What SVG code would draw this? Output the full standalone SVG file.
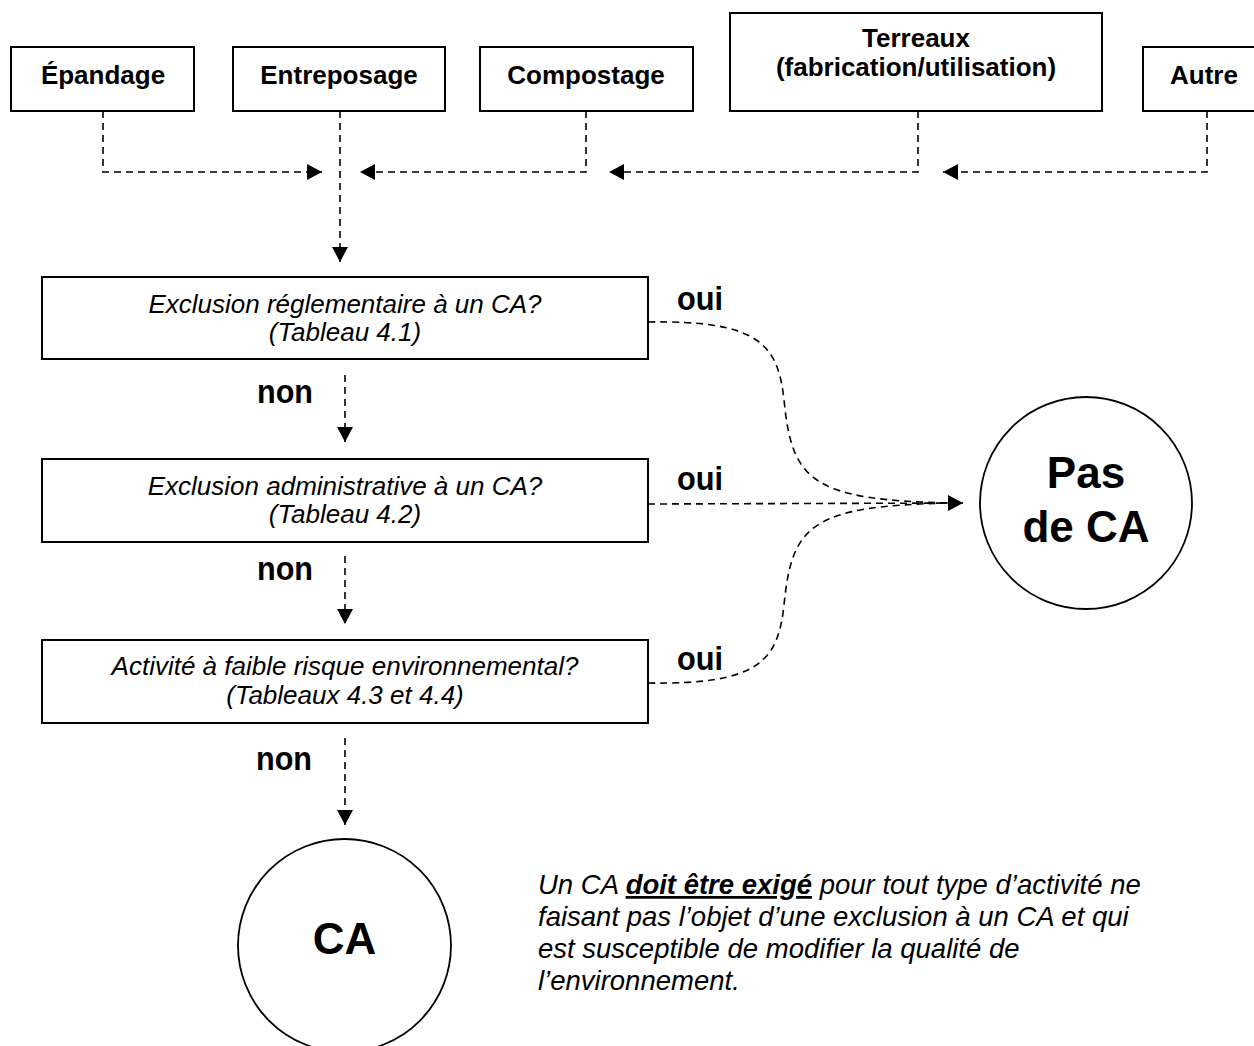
<svg xmlns="http://www.w3.org/2000/svg" width="1254" height="1046" viewBox="0 0 1254 1046">
<style>
  .box { fill: #fff; stroke: #000; stroke-width: 2; }
  .circ { fill: #fff; stroke: #000; stroke-width: 1.8; }
  .dash { fill: none; stroke: #000; stroke-width: 1.6; stroke-dasharray: 7 5; }
  .top { font-family: "Liberation Sans", Arial, sans-serif; font-weight: bold; font-size: 26px; text-anchor: middle; fill: #000; }
  .q { font-family: "Liberation Sans", Arial, sans-serif; font-style: italic; font-size: 26px; text-anchor: middle; fill: #000; }
  .lbl { font-family: "Liberation Sans", Arial, sans-serif; font-weight: bold; font-size: 33px; fill: #000; }
  .big { font-family: "Liberation Sans", Arial, sans-serif; font-weight: bold; font-size: 44px; text-anchor: middle; fill: #000; }
  .note { font-family: "Liberation Sans", Arial, sans-serif; font-style: italic; font-size: 27.5px; fill: #000; }
</style>
<defs>
  <marker id="ah" markerUnits="userSpaceOnUse" markerWidth="16" markerHeight="16" refX="15" refY="8" orient="auto">
    <path d="M0,0 L15,8 L0,16 Z" fill="#000"/>
  </marker>
</defs>
<rect width="1254" height="1046" fill="#fff"/>

<g id="connectors">
  <path class="dash" d="M103,111 V172 H322" marker-end="url(#ah)"/>
  <path class="dash" d="M340,111 V262" marker-end="url(#ah)"/>
  <path class="dash" d="M586,111 V172 H360" marker-end="url(#ah)"/>
  <path class="dash" d="M918,111 V172 H609" marker-end="url(#ah)"/>
  <path class="dash" d="M1207,111 V172 H943" marker-end="url(#ah)"/>
  <path class="dash" d="M345,375 V442" marker-end="url(#ah)"/>
  <path class="dash" d="M345,556 V624" marker-end="url(#ah)"/>
  <path class="dash" d="M345,738 V825" marker-end="url(#ah)"/>
  <path class="dash" d="M648,322 C760,320 778,345 784,400 C792,480 810,500 950,503"/>
  <path class="dash" d="M648,504 L963,503" marker-end="url(#ah)"/>
  <path class="dash" d="M648,683 C760,685 778,660 784,605 C792,525 810,506 950,503"/>
</g>

<g id="n-epandage">
  <rect class="box" x="11" y="47" width="183" height="64"/>
  <text class="top" x="103" y="84">Épandage</text>
</g>
<g id="n-entreposage">
  <rect class="box" x="233" y="47" width="212" height="64"/>
  <text class="top" x="339" y="84">Entreposage</text>
</g>
<g id="n-compostage">
  <rect class="box" x="480" y="47" width="213" height="64"/>
  <text class="top" x="586" y="84">Compostage</text>
</g>
<g id="n-terreaux">
  <rect class="box" x="730" y="13" width="372" height="98"/>
  <text class="top" x="916" y="47">Terreaux</text>
  <text class="top" x="916" y="76">(fabrication/utilisation)</text>
</g>
<g id="n-autre">
  <rect class="box" x="1143" y="47" width="128" height="64"/>
  <text class="top" x="1204" y="84">Autre</text>
</g>

<g id="n-q1">
  <rect class="box" x="42" y="277" width="606" height="82"/>
  <text class="q" x="345" y="313">Exclusion réglementaire à un CA?</text>
  <text class="q" x="345" y="341">(Tableau 4.1)</text>
</g>
<g id="n-q2">
  <rect class="box" x="42" y="459" width="606" height="83"/>
  <text class="q" x="345" y="495">Exclusion administrative à un CA?</text>
  <text class="q" x="345" y="523">(Tableau 4.2)</text>
</g>
<g id="n-q3">
  <rect class="box" x="42" y="640" width="606" height="83"/>
  <text class="q" x="345" y="675">Activité à faible risque environnemental?</text>
  <text class="q" x="345" y="704">(Tableaux 4.3 et 4.4)</text>
</g>

<g id="labels">
  <text class="lbl" x="677" y="310" textLength="46" lengthAdjust="spacingAndGlyphs">oui</text>
  <text class="lbl" x="677" y="490" textLength="46" lengthAdjust="spacingAndGlyphs">oui</text>
  <text class="lbl" x="677" y="670" textLength="46" lengthAdjust="spacingAndGlyphs">oui</text>
  <text class="lbl" x="257" y="403" textLength="56" lengthAdjust="spacingAndGlyphs">non</text>
  <text class="lbl" x="257" y="580" textLength="56" lengthAdjust="spacingAndGlyphs">non</text>
  <text class="lbl" x="256" y="770" textLength="56" lengthAdjust="spacingAndGlyphs">non</text>
</g>

<g id="n-pasdeca">
  <circle class="circ" cx="1086" cy="503" r="106"/>
  <text class="big" x="1086" y="488">Pas</text>
  <text class="big" x="1086" y="542">de CA</text>
</g>
<g id="n-ca">
  <circle class="circ" cx="344.5" cy="945.5" r="106.5"/>
  <text class="big" x="344.5" y="954">CA</text>
</g>

<g id="note">
  <text class="note" x="538" y="894">Un CA <tspan font-weight="bold" text-decoration="underline">doit être exigé</tspan> pour tout type d’activité ne</text>
  <text class="note" x="538" y="926">faisant pas l’objet d’une exclusion à un CA et qui</text>
  <text class="note" x="538" y="958">est susceptible de modifier la qualité de</text>
  <text class="note" x="538" y="990">l’environnement.</text>
</g>
</svg>
